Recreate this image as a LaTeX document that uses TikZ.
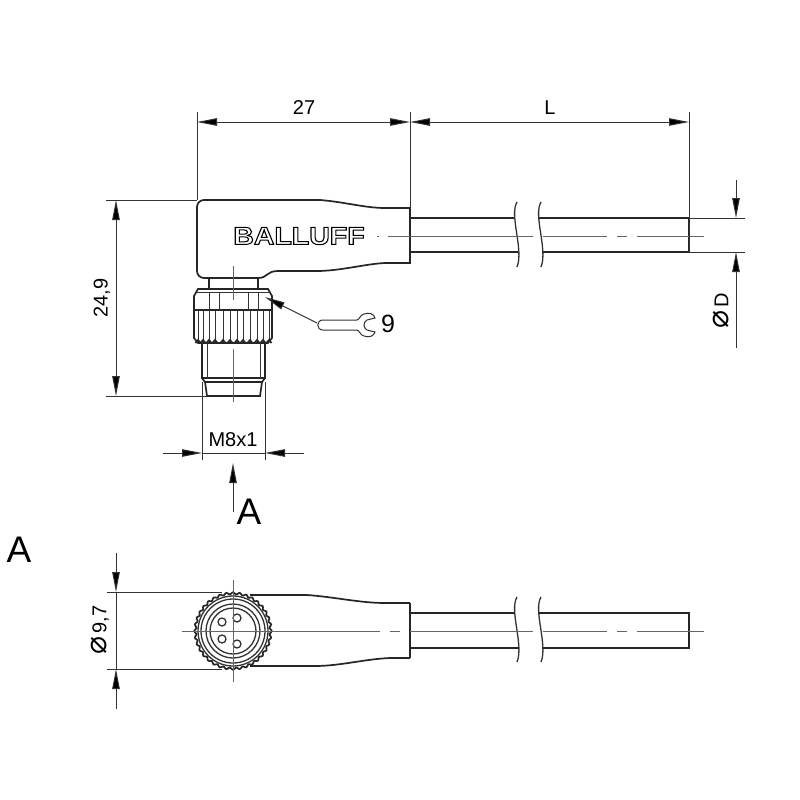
\documentclass[tikz,border=0pt]{standalone}
\usepackage{fontspec}
\setmainfont{Liberation Sans}
\newfontfamily\symfont{DejaVu Sans}
\usetikzlibrary{arrows.meta}
\tikzset{
  outline/.style={line width=1.7pt,draw=black!85},
  thinline/.style={line width=1pt,draw=black!80},
  axisline/.style={line width=1pt,draw=black!60},
  dimtext/.style={font=\fontsize{20}{20}\selectfont,inner sep=0pt,text=black},
  bigtext/.style={font=\fontsize{37}{37}\selectfont,inner sep=0pt,text=black}
}
\newcommand{\cablebreak}[2]{% x offset, y of centre
  \draw[thinline,line width=1.3pt] (#1+3,#2-33) .. controls (#1-5,#2-20) and (#1+10,#2+15) .. (#1+3,#2+32);
}
\newcommand{\diasign}{{\symfont\fontsize{30}{20}\selectfont ⌀}}
\begin{document}
\begin{tikzpicture}[x=1pt,y=-1pt,>={Triangle[length=20pt,width=7.5pt,fill=black]}]
      \useasboundingbox[fill=white] (0,0) rectangle (800,800);

      % side view, moulded body
      \draw[outline,rounded corners=7pt] (240,278) -- (197,278) -- (197,200) -- (250,200);
      \draw[outline] (240,278) -- (258,278) .. controls (268,278) and (266,271) .. (278,271);
      \draw[outline] (250,200) -- (320,200) .. controls (345,202) and (365,208) .. (385,208) -- (410,208) -- (410,263) -- (385,263) .. controls (365,264) and (345,270) .. (320,271) -- (278,271);
      \draw[outline] (209,278) -- (209,289);
      \draw[outline] (258,278) -- (258,289);

      % side view, nut
      \draw[outline] (194,296) -- (198,289) -- (268,289) -- (272,296) -- (272,338) -- (268,343) -- (198,343) -- (194,338) -- cycle;
      \draw[thinline] (196,292) -- (270,292);
      \draw[outline] (194,310) -- (272,310);
      \foreach \hexx in {209,219,248,258} {
        \draw[thinline] (\hexx,292) -- (\hexx,310);
      }
      \foreach \knurlx in {198,203,209,215,223,230,237,243,250,257,263,269} {
        \draw[thinline] (\knurlx,310) -- (\knurlx,342);
        \draw[outline] (\knurlx-2.5,343) -- (\knurlx,340) -- (\knurlx+2.5,343);
      }

      % side view, plug
      \draw[outline] (202,343) -- (202,378) -- (265,378) -- (265,343);
      \draw[thinline] (207,343) -- (207,378);
      \draw[thinline] (260,343) -- (260,378);
      \draw[outline] (202,378) -- (205,382) -- (262,382) -- (265,378);
      \draw[outline] (205,382) -- (207,396) -- (260,396) -- (262,382);

      % side view, cable
      \draw[outline] (410,218) -- (514,218);
      \draw[outline] (410,252) -- (518,252);
      \draw[outline] (538,218) -- (689,218) -- (689,252) -- (542,252);
      \cablebreak{514}{235}
      \cablebreak{538}{235}

      % side view, axes
      \draw[axisline] (377,236) -- (379,236);
      \draw[axisline] (388,236) -- (533,236);
      \draw[axisline] (543,236) -- (607,236);
      \draw[axisline] (617,236) -- (627,236);
      \draw[axisline] (637,236) -- (704,236);
      \draw[axisline] (233,266) -- (233,300);
      \draw[axisline] (233,349) -- (233,402);

      % dimension 27 and L
      \draw[thinline] (197,112) -- (197,200);
      \draw[thinline] (410,112) -- (410,208);
      \draw[thinline] (689,112) -- (689,252);
      \draw[<->,thinline] (197,122) -- (410,122);
      \draw[<->,thinline] (410,122) -- (689,122);
      \node[dimtext] (len27) at (304,108) {27};
      \node[dimtext] (lenL) at (550,108) {L};

      % dimension 24,9
      \draw[thinline] (106,200) -- (197,200);
      \draw[thinline] (106,396) -- (206,396);
      \draw[<->,thinline] (116,200) -- (116,396);
      \node[dimtext,rotate=90] (height249) at (102,298) {24,9};

      % dimension M8x1
      \draw[thinline] (202,382) -- (202,460);
      \draw[thinline] (265,382) -- (265,460);
      \draw[<-,thinline] (202,453) -- (163,453);
      \draw[<-,thinline] (265,453) -- (304,453);
      \draw[thinline] (202,453) -- (265,453);
      \node[dimtext] (thread) at (233,440) {M8x1};

      % dimension D
      \draw[thinline] (689,218) -- (745,218);
      \draw[thinline] (689,252) -- (745,252);
      \draw[<-,thinline] (736,218) -- (736,180);
      \draw[<-,thinline] (736,252) -- (736,348);
      \node[dimtext,rotate=90] (diamD) at (721,311) {\diasign\,D};

      % wrench size
      \draw[->,thinline] (317,323) -- (265,297);
      \draw[thinline] (357,320) -- (323,320) .. controls (316,320) and (316,330) .. (323,330) -- (357,330);
      \draw[thinline] (357,320) .. controls (360,319) and (360,315) .. (364,314) .. controls (369,312) and (374,314) .. (375,318) -- (367,320) .. controls (363,322) and (363,328) .. (367,330) -- (375,332) .. controls (374,336) and (369,338) .. (364,336) .. controls (360,335) and (360,331) .. (357,330);
      \node[dimtext,font=\fontsize{25}{25}\selectfont] (wrench) at (388,324) {9};

      % logo
      \node[inner sep=0pt,xscale=1.14,font=\fontsize{25}{25}\selectfont\bfseries] (logo) at (299,236) {\special{pdf:code 1 Tr 1 w}BALLUFF\special{pdf:code 0 Tr}};

      % view arrow
      \draw[->,thinline] (233,512) -- (233,463);
      \node[bigtext] (viewA) at (249,512) {A};
      \node[bigtext] (titleA) at (19,550) {A};

      % end view, body
      \draw[outline] (250,595) -- (307,595) .. controls (335,597) and (360,603) .. (385,603) -- (410,603);
      \draw[line width=2.2pt,draw=black!85] (410,603) -- (410,658);
      \draw[outline] (410,658) -- (390,658) .. controls (365,659) and (340,666) .. (315,666) -- (250,666);

      % end view, cable
      \draw[outline] (410,613) -- (514,613);
      \draw[outline] (410,648) -- (518,648);
      \draw[outline] (538,613) -- (689,613) -- (689,648) -- (542,648);
      \cablebreak{514}{630}
      \cablebreak{538}{630}

      % end view, connector face
      \draw[fill=white,outline] plot[domain=0:360,samples=217] ({233+(37.7+1*cos(36*\x))*cos(\x)},{631+(37.7+1*cos(36*\x))*sin(\x)}) -- cycle;
      \foreach \ringr in {35,32,27,23} {
        \draw[thinline,line width=1.3pt] (233,631) circle (\ringr);
      }
      \foreach \pinx/\piny in {222/622,237/618,222/639,237/644} {
        \draw[thinline,line width=1.3pt] (\pinx,\piny) circle (4);
      }

      % end view, axes
      \draw[axisline] (182,631) -- (380,631);
      \draw[axisline] (390,631) -- (400,631);
      \draw[axisline] (410,631) -- (533,631);
      \draw[axisline] (543,631) -- (607,631);
      \draw[axisline] (617,631) -- (627,631);
      \draw[axisline] (637,631) -- (704,631);
      \draw[axisline] (233,580) -- (233,682);

      % dimension 9,7
      \draw[thinline] (107,592) -- (222,592);
      \draw[thinline] (107,669) -- (222,669);
      \draw[<-,thinline] (116,592) -- (116,553);
      \draw[<-,thinline] (116,669) -- (116,709);
      \draw[thinline] (116,592) -- (116,669);
      \node[dimtext,rotate=90] (diam97) at (100,630) {\diasign\,9,7};
    \end{tikzpicture}
\end{document}
